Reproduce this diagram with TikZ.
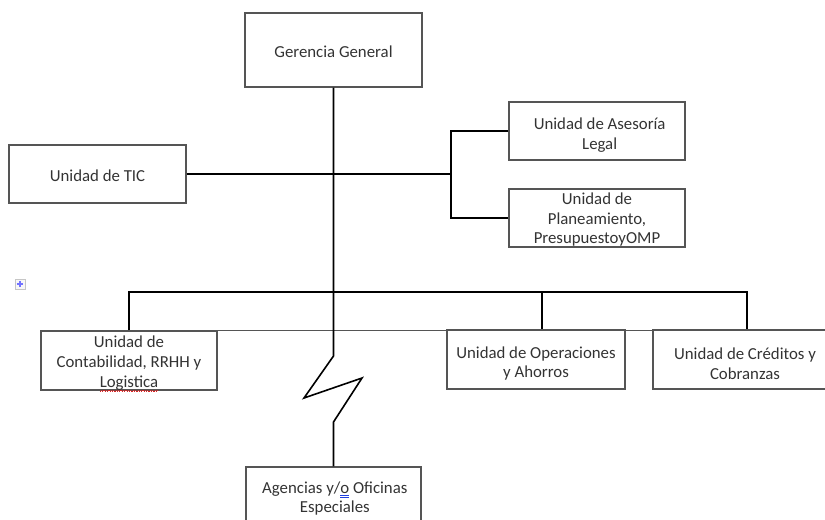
\documentclass[tikz,border=0pt]{standalone}
\usepackage{fontspec}
\setmainfont{Carlito}
\definecolor{boxgray}{HTML}{555555}
\definecolor{textgray}{HTML}{333333}
\definecolor{spellred}{HTML}{E02020}
\definecolor{spellblue}{HTML}{2040E0}
\newcommand\spellred[1]{\setbox0\hbox{#1}\rlap{\textcolor{spellred}{\hbox to\wd0{\xleaders\hbox{\rule[-3.2pt]{0.9pt}{0.6pt}\rule[-2.5pt]{0.9pt}{0.6pt}}\hfill}}}#1}
\newcommand\spellblue[1]{\setbox0\hbox{#1}\rlap{\textcolor{spellblue}{\rule[-2.2pt]{\wd0}{0.6pt}}}\rlap{\textcolor{spellblue}{\rule[-3.5pt]{\wd0}{0.6pt}}}#1}
\tikzset{
  orgbox/.style={draw=boxgray, line width=1pt, inner sep=0pt, anchor=center},
  txt/.style={text=textgray, align=center, inner sep=0pt,
    font=\fontsize{12.6}{14.8}\selectfont},
  wire/.style={draw=black, line width=1.2pt},
  rule/.style={draw=boxgray, line width=1pt},
}
\begin{document}
\begin{tikzpicture}[x=0.75pt,y=-0.75pt]
\useasboundingbox (0,0) rectangle (825,519);
% boxes
\node[orgbox, minimum width=132.75pt, minimum height=55.5pt] (ger) at (333.5,50) {};
\node[orgbox, minimum width=132.75pt, minimum height=43.5pt] (tic) at (97.5,174) {};
\node[orgbox, minimum width=132pt, minimum height=43.5pt] (ase) at (597,131) {};
\node[orgbox, minimum width=132pt, minimum height=43.5pt] (pla) at (597,218) {};
\node[orgbox, minimum width=132pt, minimum height=44.25pt] (con) at (129,360.5) {};
\node[orgbox, minimum width=133.5pt, minimum height=44.25pt] (ope) at (536,359.5) {};
\node[orgbox, minimum width=138pt, minimum height=44.25pt] (cre) at (745,359.5) {};
\node[orgbox, minimum width=131.25pt, minimum height=47.25pt] (ag) at (333.5,498.5) {};
% texts
\node[txt] (gerT) at ([yshift=-1.5pt]ger.center) {Gerencia General};
\node[txt] (ticT) at ([yshift=-1.5pt]tic.center) {Unidad de TIC};
\node[txt] (aseT) at ([xshift=2pt,yshift=-3pt]ase.center) {Unidad de Asesoría\\Legal};
\node[txt] (plaT) at ([yshift=-1.2pt]pla.center) {Unidad de\\Planeamiento,\\PresupuestoyOMP};
\node[txt] (conT) at ([yshift=-2.5pt]con.center) {Unidad de\\Contabilidad, RRHH y\\\spellred{Logistica}};
\node[txt] (opeT) at ([yshift=-3pt]ope.center) {Unidad de Operaciones\\y Ahorros};
\node[txt] (creT) at ([yshift=-3pt]cre.center) {Unidad de Créditos y\\Cobranzas};
\node[txt] (agT) at ([xshift=1pt]ag.center) {Agencias y/\spellblue{o} Oficinas\\Especiales};
% table rule along the top of the lower boxes
\draw[rule] (con.north west) -- (con.north west -| cre.north east);
% small move handle
\node[draw=gray!45, fill=gray!6, line width=0.5pt, minimum size=7.5pt, inner sep=0pt] (icon) at (20,284) {};
\draw[blue!55, line width=0.9pt] (icon.center) +(-2.4pt,0) -- +(2.4pt,0);
\draw[blue!55, line width=0.9pt] (icon.center) +(0,-2.4pt) -- +(0,2.4pt);
% main trunk with break
\coordinate (zA) at (333.5,356);
\coordinate (zB) at (304,398);
\coordinate (zC) at (362,378);
\coordinate (zD) at (333.5,422);
\draw[wire, line join=miter] (ger.south) -- (zA) -- (zB) -- (zC) -- (zD) -- (ag.north);
% staff branch
\coordinate (br) at (451,174);
\draw[wire] (tic.east) -- (br);
\draw[wire] (ase.west) -| (br) |- (pla.west);
% lower bus
\coordinate (busR) at (747,292);
\coordinate (dOp) at (542,292);
\draw[wire] (con.north) |- (busR) -- (busR |- cre.north);
\draw[wire] (dOp) -- (dOp |- ope.north);
\end{tikzpicture}
\end{document}
